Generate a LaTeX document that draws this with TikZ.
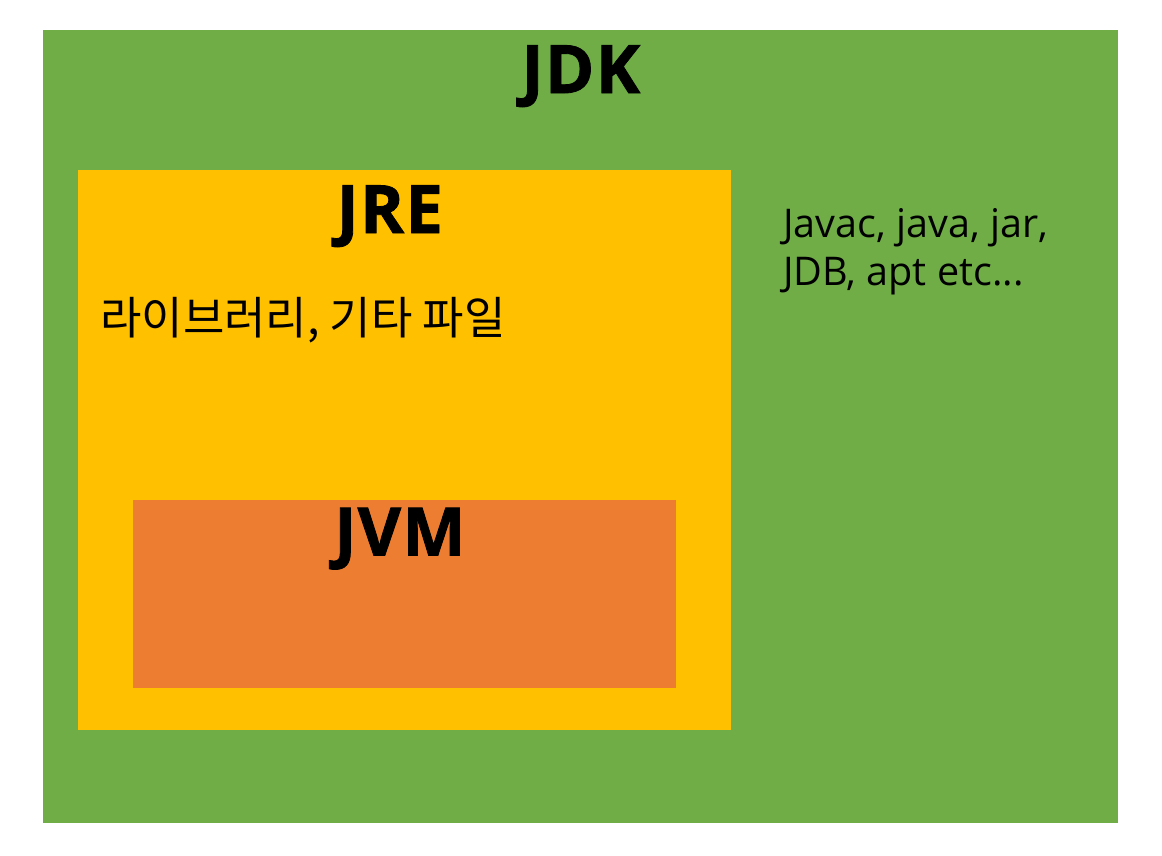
\documentclass[tikz,border=0pt]{standalone}
\usepackage{fontspec}
\setmainfont{Open Sans}
\newfontfamily\kofont{Noto Sans CJK KR}
\usetikzlibrary{positioning}
\definecolor{jdkgreen}{HTML}{70AD47}
\definecolor{jreyellow}{HTML}{FFC000}
\definecolor{jvmorange}{HTML}{ED7D31}

\begin{document}
\begin{tikzpicture}[
  layer/.style={inner sep=0pt, anchor=north west},
  title/.style={font=\fontsize{38}{40}\selectfont\bfseries\addfontfeatures{LetterSpace=2,FakeBold=1.2}, inner sep=0pt},
  note/.style={align=left, anchor=west, inner sep=0pt}
]
\useasboundingbox[fill=white] (0,0) rectangle (23.24,-17.12);
% nested boxes
\node[layer, fill=jdkgreen, minimum width=21.5cm, minimum height=15.86cm] (jdk) at (0.86,-0.6) {};
\node[layer, fill=jreyellow, minimum width=13.06cm, minimum height=11.2cm] (jre) at (1.56,-3.4) {};
\node[layer, fill=jvmorange, minimum width=10.86cm, minimum height=3.76cm] (jvm) at (2.66,-10.0) {};
% titles
\node[title, below=0.3cm of jdk.north, xshift=0.0cm] (jdklabel) {JDK};
\node[title, below=0.3cm of jre.north, xshift=-0.3cm] (jrelabel) {JRE};
\node[title, below=0.15cm of jvm.north, xshift=-0.1cm] (jvmlabel) {JVM};
% contents
\node[note, font=\kofont\fontsize{25.6}{30}\selectfont] (libs) at (2.0,-6.4) {라이브러리, 기타 파일};
\node[note, font=\fontsize{22.5}{27.2}\selectfont] (tools) at (15.66,-5.04) {Javac, java, jar,\\JDB, apt etc...};
\end{tikzpicture}
\end{document}
